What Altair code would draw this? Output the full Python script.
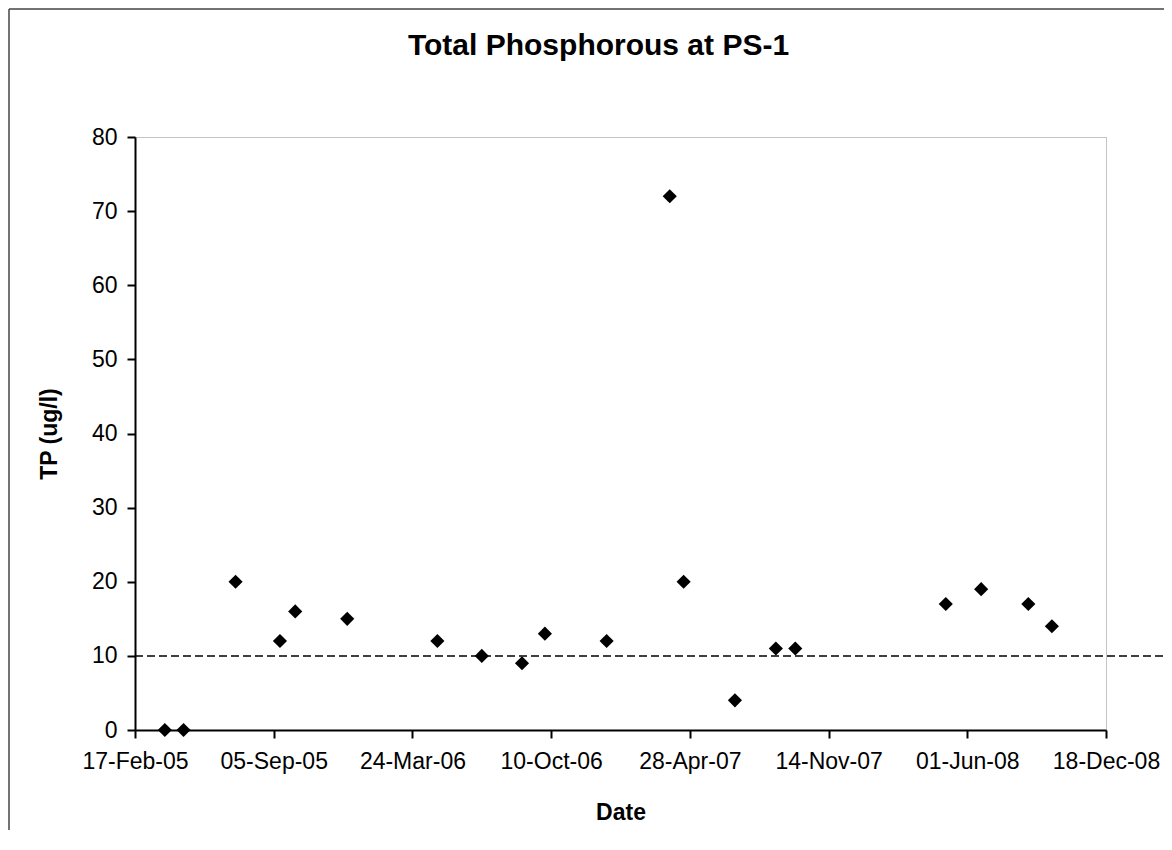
import altair as alt
import pandas as pd

# Sample dates and Total Phosphorous values (ug/l)
dates = [
    "2005-04-01", "2005-04-28", "2005-07-12", "2005-09-14", "2005-10-06",
    "2005-12-20", "2006-04-29", "2006-07-02", "2006-08-29", "2006-10-01",
    "2006-12-29", "2007-03-30", "2007-04-19", "2007-07-02", "2007-08-30",
    "2007-09-27", "2008-05-01", "2008-06-21", "2008-08-28", "2008-10-01",
]
tp_values = [0, 0, 20, 12, 16, 15, 12, 10, 9, 13, 12, 72, 20, 4, 11, 11, 17, 19, 17, 14]

threshold = [10]

x_ticks = [
    (2005, 2, 17), (2005, 9, 5), (2006, 3, 24), (2006, 10, 10),
    (2007, 4, 28), (2007, 11, 14), (2008, 6, 1), (2008, 12, 18),
]
y_ticks = [0, 10, 20, 30, 40, 50, 60, 70, 80]

chart_title = ["Total Phosphorous at PS-1"]

FONT = "Liberation Sans"
W, H = 971, 593
PAD = {"left": 127, "top": 129, "right": 58, "bottom": 100}

df = pd.DataFrame({"date": [d + "T00:00:00" for d in dates], "tp": tp_values})
thr = pd.DataFrame({"tp": threshold})
border = pd.DataFrame({"k": [0]})
title_df = pd.DataFrame({"t": chart_title})

tick_vals = [alt.DateTime(year=y, month=m, date=d) for (y, m, d) in x_ticks]

x_enc = alt.X(
    "date:T",
    title="Date",
    scale=alt.Scale(domain=[tick_vals[0], tick_vals[-1]], nice=False),
    axis=alt.Axis(
        values=tick_vals, format="%d-%b-%y", labelFlush=False, labelOverlap=False,
        grid=False, tickSize=8, labelPadding=12, titlePadding=28,
    ),
)
y_enc = alt.Y(
    "tp:Q",
    title="TP (ug/l)",
    scale=alt.Scale(domain=[0, 80], nice=False),
    axis=alt.Axis(values=y_ticks, grid=False, tickSize=8, labelPadding=10, titlePadding=30),
)

points = alt.Chart(df).mark_point(
    shape="diamond", filled=True, color="black", size=200, opacity=1
).encode(x=x_enc, y=y_enc)

line = alt.Chart(thr).mark_rule(
    color="black", strokeDash=[8, 4], strokeWidth=1.5
).encode(y=alt.Y("tp:Q"), x=alt.value(0), x2=alt.value(W + PAD["right"]))

top_border = alt.Chart(border).mark_rule(color="#444", strokeWidth=1.5).encode(
    x=alt.value(-PAD["left"] + 1), x2=alt.value(W + PAD["right"]),
    y=alt.value(-PAD["top"] + 1),
)
left_border = alt.Chart(border).mark_rule(color="#444", strokeWidth=1.5).encode(
    x=alt.value(-PAD["left"] + 1),
    y=alt.value(-PAD["top"] + 1), y2=alt.value(H + PAD["bottom"]),
)

title_mark = alt.Chart(title_df).mark_text(
    font=FONT, fontSize=30, fontWeight="bold", color="black",
    align="center", baseline="alphabetic",
).encode(text="t:N", x=alt.value(W / 2 - 22), y=alt.value(-82))

chart = alt.layer(line, points, top_border, left_border, title_mark).properties(
    width=W,
    height=H,
    padding=PAD,
    autosize=alt.AutoSizeParams(type="none"),
).configure_view(
    stroke="#888", strokeDash=[1, 1], strokeWidth=1
).configure_axis(
    labelFont=FONT, labelFontSize=23, labelColor="black",
    titleFont=FONT, titleFontSize=23, titleFontWeight="bold", titleColor="black",
    domainColor="black", domainWidth=2, tickColor="black", tickWidth=2,
)

chart.save("out.html", embed_options={"renderer": "svg", "actions": False})
